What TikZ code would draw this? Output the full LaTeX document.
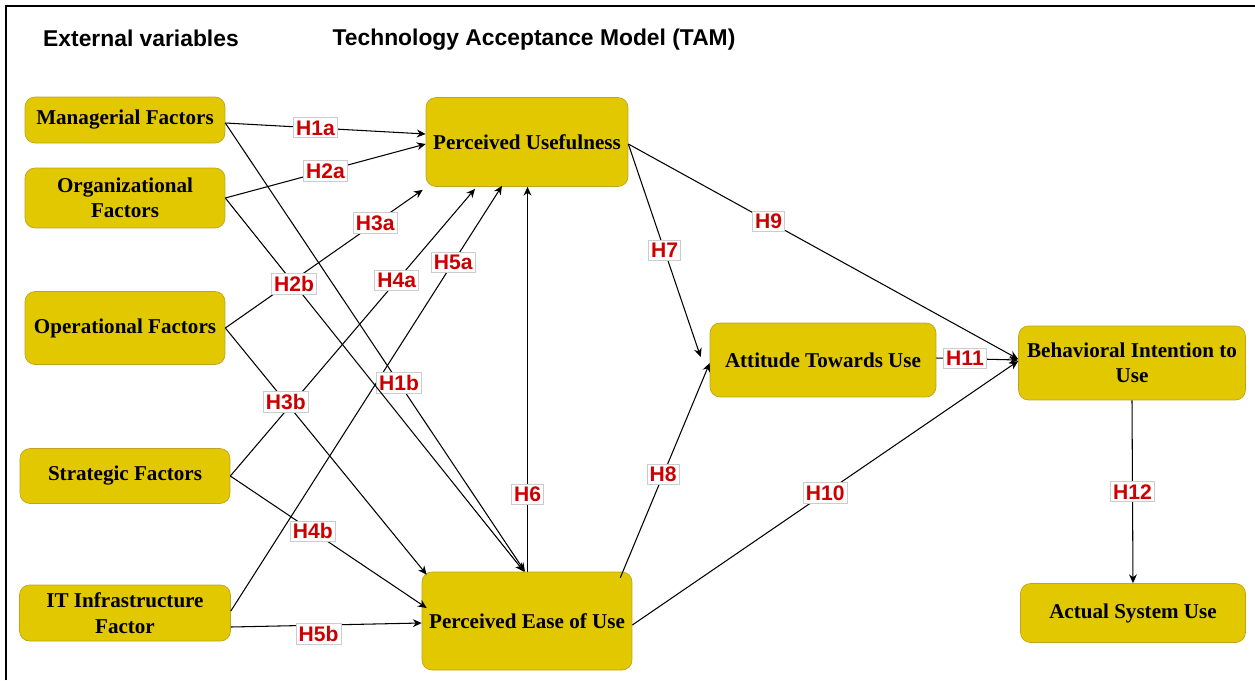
\documentclass[tikz,border=0pt]{standalone}
\usepackage{fontspec}
\setmainfont{Liberation Serif}
\newfontfamily\hypfont{Liberation Sans}
\usetikzlibrary{arrows.meta,calc}
\definecolor{boxfill}{RGB}{225,200,0}
\definecolor{boxline}{RGB}{190,165,30}
\definecolor{hypred}{RGB}{204,0,0}
\begin{document}
\begin{tikzpicture}[x=0.02cm,y=-0.02cm,
  factor/.style={draw=boxline, fill=boxfill, rounded corners=0.2cm, align=center,
    font=\bfseries\fontsize{12}{14.5}\selectfont},
  hyp/.style={draw=black!20, fill=white, text=hypred, inner sep=1.5pt,
    font=\hypfont\bfseries\fontsize{12}{14}\selectfont},
  arr/.style={-{Stealth[length=5pt,width=4.5pt]}, line width=0.6pt},
  title/.style={font=\hypfont\bfseries\fontsize{13}{15}\selectfont}]
\useasboundingbox (0,0) rectangle (1255,680);
% Kader
\draw[line width=1.2pt] (6,680) -- (6,6) -- (1255,6);
% Titels
\node[title] (ext) at (141,38) {External variables};
\node[title] (tam) at (534,40) {Technology Acceptance Model (TAM)};
% Externe variabelen
\node[factor, minimum width=4cm, minimum height=0.92cm] (mf) at (125,120) {Managerial Factors};
\node[factor, minimum width=4cm, minimum height=1.2cm] (of) at (125,198) {Organizational\\Factors};
\node[factor, minimum width=4cm, minimum height=1.46cm] (opf) at (125,328) {Operational Factors};
\node[factor, minimum width=4.2cm, minimum height=1.1cm] (sf) at (125,476) {Strategic Factors};
\node[factor, minimum width=4.22cm, minimum height=1.12cm] (itf) at (125,613) {IT Infrastructure\\Factor};
% TAM
\node[factor, minimum width=4.04cm, minimum height=1.78cm] (pu) at (527,142) {Perceived Usefulness};
\node[factor, minimum width=4.2cm, minimum height=1.96cm] (peu) at (527,621) {Perceived Ease of Use};
\node[factor, minimum width=4.52cm, minimum height=1.48cm] (atu) at (823,360) {Attitude Towards Use};
\node[factor, minimum width=4.54cm, minimum height=1.48cm] (bi) at (1132,363) {Behavioral Intention to\\Use};
\node[factor, minimum width=4.5cm, minimum height=1.18cm] (asu) at (1133,613) {Actual System Use};
% Pijlen naar PU
\draw[arr] ($(mf.east)+(0,3)$) -- ($(pu.west)+(0,-8)$) node[hyp, pos=.45] {H1a};
\draw[arr] (of.east) -- ($(pu.west)+(0,2)$) node[hyp, pos=.5] {H2a};
\draw[arr] (opf.east) -- ($(pu.south west)+(-3,3)$) node[hyp, pos=.76] {H3a};
\draw[arr] (sf.east) -- ($(pu.south)+(-52,2)$) node[hyp, pos=.68] {H4a};
\draw[arr] ($(itf.east)+(0,-2)$) -- ($(pu.south)+(-25,-1)$) node[hyp, pos=.82] {H5a};
% Pijlen naar PEU
\draw[arr] ($(mf.east)+(0,3)$) -- ($(peu.north)+(-2,0)$) node[hyp, pos=.58] {H1b};
\draw[arr] (of.east) -- ($(peu.north)+(-3,0)$) node[hyp, pos=.23] {H2b};
\draw[arr] (opf.east) -- ($(peu.north west)+(5,3)$) node[hyp, pos=.3] {H3b};
\draw[arr] (sf.east) -- ($(peu.west)+(5,-13)$) node[hyp, pos=.42] {H4b};
\draw[arr] ($(itf.east)+(0,14)$) -- ($(peu.west)+(0,2)$) node[hyp, pos=.46, yshift=-5pt] {H5b};
% TAM pijlen
\draw[arr] ($(peu.north)+(0.5,0)$) -- ($(pu.south)+(0.5,0)$) node[hyp, pos=.2] {H6};
\draw[arr] ($(pu.east)+(0,2)$) -- ($(atu.west)+(-9,-3)$) node[hyp, pos=.5] {H7};
\draw[arr] ($(peu.north east)+(-12,6)$) -- ($(atu.west)+(0,3)$) node[hyp, pos=.48] {H8};
\draw[arr] ($(pu.east)+(0,2)$) -- ($(bi.west)+(0,-4)$) node[hyp, pos=.36] {H9};
\draw[arr] ($(peu.east)+(0,4)$) -- ($(bi.west)+(0,-2)$) node[hyp, pos=.5] {H10};
\draw[arr] ($(atu.east)+(0,-2)$) -- ($(bi.west)+(0,-3)$) node[hyp, pos=.35] {H11};
\draw[arr] (bi.south) -- (asu.north) node[hyp, pos=.5] {H12};
\end{tikzpicture}
\end{document}
